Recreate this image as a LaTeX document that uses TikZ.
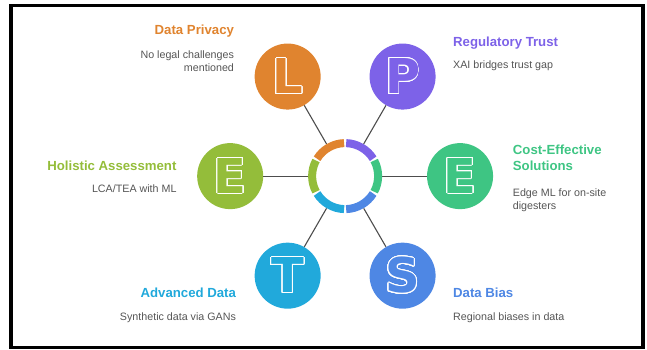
\documentclass[tikz,border=0pt]{standalone}
\usepackage{fontspec}
\setmainfont{Liberation Sans}
\newfontfamily\letterfont{DejaVu Sans}
\usepackage{tikz}
\usepackage{contour}
\usetikzlibrary{calc}

\definecolor{privacyC}{HTML}{E0842F}
\definecolor{trustC}{HTML}{7D62E8}
\definecolor{costC}{HTML}{3EC583}
\definecolor{biasC}{HTML}{4E87E4}
\definecolor{advancedC}{HTML}{21A9DB}
\definecolor{holisticC}{HTML}{94BD3A}
\definecolor{spokeC}{HTML}{4D4D4D}
\definecolor{descC}{HTML}{555555}

\contourlength{0.8pt}
\contournumber{32}

\begin{document}
\begin{tikzpicture}[
	bub/.style={circle, fill=#1, text=#1, minimum size=2.32cm, inner sep=0pt, font=\letterfont\fontsize{48}{48}\selectfont\bfseries},
	spoke/.style={draw=spokeC, line width=1.1pt},
	ttl/.style={text=#1, inner sep=0pt, font=\fontsize{13.2}{16}\selectfont\bfseries},
	dsc/.style={text=descC, inner sep=0pt, font=\fontsize{10.7}{13}\selectfont}]
	\useasboundingbox (-12.13,-6.08) rectangle (10.61,6.19);
	\draw[line width=3.5pt] (-11.74,5.99) rectangle (10.47,-6.03);

	% hub and the six letters
	\node[circle, minimum size=2.6cm, inner sep=0pt] (hub) at (0,0) {};
	\node[bub=privacyC] (privacy) at (120:4.04) {\contour{white}{L}};
	\node[bub=trustC] (trust) at (60:4.04) {\contour{white}{P}};
	\node[bub=costC] (cost) at (0:4.04) {\contour{white}{E}};
	\node[bub=biasC] (bias) at (-60:4.04) {\contour{white}{S}};
	\node[bub=advancedC] (advanced) at (-120:4.04) {\contour{white}{T}};
	\node[bub=holisticC] (holistic) at (180:4.04) {\contour{white}{E}};

	\foreach \n in {privacy,trust,cost,bias,advanced,holistic}
		\draw[spoke] (hub) -- (\n);

	\foreach \a/\c in {120/privacyC,60/trustC,0/costC,-60/biasC,-120/advancedC,180/holisticC}
		\draw[\c, line width=8pt] (\a-28.2:1.16) arc[start angle=\a-28.2, end angle=\a+28.2, radius=1.16];

	% labels
	\node[ttl=privacyC, anchor=base east] (privacyT) at (-3.90,4.98) {Data Privacy};
	\node[dsc, align=right, anchor=north east] (privacyD) at (-3.90,4.43) {No legal challenges\\mentioned};
	\node[ttl=trustC, anchor=base west] (trustT) at (3.79,4.56) {Regulatory Trust};
	\node[dsc, anchor=base west] (trustD) at (3.79,3.77) {XAI bridges trust gap};
	\node[ttl=costC, align=left, anchor=north west] (costT) at (5.89,1.10) {Cost-Effective\\Solutions};
	\node[dsc, align=left, anchor=north west] (costD) at (5.89,-0.42) {Edge ML for on-site\\digesters};
	\node[ttl=holisticC, anchor=base east] (holisticT) at (-5.92,0.20) {Holistic Assessment};
	\node[dsc, anchor=base east] (holisticD) at (-5.92,-0.59) {LCA/TEA with ML};
	\node[ttl=advancedC, anchor=base east] (advancedT) at (-3.83,-4.26) {Advanced Data};
	\node[dsc, anchor=base east] (advancedD) at (-3.83,-5.09) {Synthetic data via GANs};
	\node[ttl=biasC, anchor=base west] (biasT) at (3.79,-4.26) {Data Bias};
	\node[dsc, anchor=base west] (biasD) at (3.79,-5.09) {Regional biases in data};
\end{tikzpicture}
\end{document}
